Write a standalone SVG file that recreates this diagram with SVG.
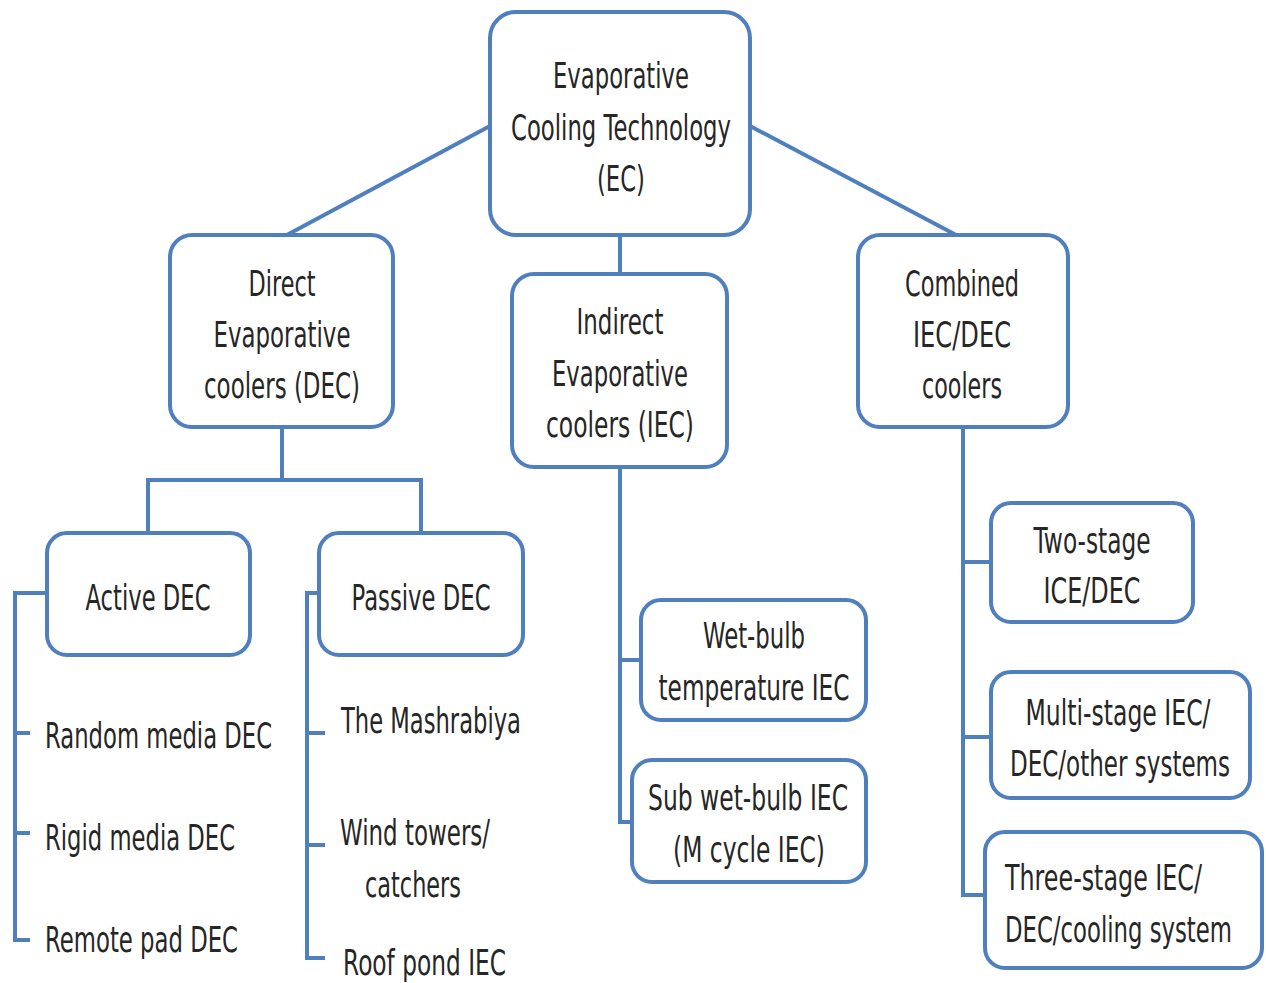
<svg xmlns="http://www.w3.org/2000/svg" width="1266" height="983" viewBox="0 0 1266 983">
<style>
.box{fill:#fff;stroke:#4f7fbd;stroke-width:4}
.ln{fill:none;stroke:#4f7fbd;stroke-width:4}
text{font-family:"DejaVu Sans",Verdana,sans-serif;font-size:36px;fill:#262626}
.c{text-anchor:middle}
</style>
<rect width="1266" height="983" fill="#fff"/>
<g id="connectors">
<line class="ln" x1="490" y1="126" x2="285" y2="236"/>
<line class="ln" x1="750" y1="126" x2="958" y2="236"/>
<line class="ln" x1="620" y1="235" x2="620" y2="274"/>
<polyline class="ln" points="282,427 282,480"/>
<polyline class="ln" points="148,533 148,480 421,480 421,533"/>
<polyline class="ln" points="47,593 15,593 15,940 30,940"/>
<line class="ln" x1="15" y1="733" x2="30" y2="733"/>
<line class="ln" x1="15" y1="833" x2="30" y2="833"/>
<polyline class="ln" points="319,593 307,593 307,958 325,958"/>
<line class="ln" x1="307" y1="733" x2="325" y2="733"/>
<line class="ln" x1="307" y1="845" x2="325" y2="845"/>
<polyline class="ln" points="620,467 620,822 632,822"/>
<line class="ln" x1="620" y1="660" x2="641" y2="660"/>
<polyline class="ln" points="963,427 963,895 985,895"/>
<line class="ln" x1="963" y1="562" x2="991" y2="562"/>
<line class="ln" x1="963" y1="737" x2="991" y2="737"/>
</g>
<g id="root">
<rect class="box" x="490" y="12" width="260" height="223" rx="26"/>
<text class="c" x="621" y="88" textLength="136" lengthAdjust="spacingAndGlyphs">Evaporative</text>
<text class="c" x="621" y="140" textLength="220" lengthAdjust="spacingAndGlyphs">Cooling Technology</text>
<text class="c" x="621" y="191" textLength="48" lengthAdjust="spacingAndGlyphs">(EC)</text>
</g>
<g id="dec">
<rect class="box" x="170" y="235" width="223" height="192" rx="22"/>
<text class="c" x="282" y="296" textLength="67" lengthAdjust="spacingAndGlyphs">Direct</text>
<text class="c" x="282" y="347" textLength="137" lengthAdjust="spacingAndGlyphs">Evaporative</text>
<text class="c" x="282" y="398" textLength="156" lengthAdjust="spacingAndGlyphs">coolers (DEC)</text>
</g>
<g id="iec">
<rect class="box" x="512" y="274" width="215" height="193" rx="22"/>
<text class="c" x="620" y="334" textLength="87" lengthAdjust="spacingAndGlyphs">Indirect</text>
<text class="c" x="620" y="386" textLength="136" lengthAdjust="spacingAndGlyphs">Evaporative</text>
<text class="c" x="620" y="437" textLength="148" lengthAdjust="spacingAndGlyphs">coolers (IEC)</text>
</g>
<g id="combined">
<rect class="box" x="858" y="235" width="210" height="192" rx="22"/>
<text class="c" x="962" y="296" textLength="114" lengthAdjust="spacingAndGlyphs">Combined</text>
<text class="c" x="962" y="347" textLength="98" lengthAdjust="spacingAndGlyphs">IEC/DEC</text>
<text class="c" x="962" y="398" textLength="80" lengthAdjust="spacingAndGlyphs">coolers</text>
</g>
<g id="active">
<rect class="box" x="47" y="533" width="203" height="122" rx="20"/>
<text class="c" x="148" y="610" textLength="125" lengthAdjust="spacingAndGlyphs">Active DEC</text>
</g>
<g id="passive">
<rect class="box" x="319" y="533" width="204" height="122" rx="20"/>
<text class="c" x="421" y="610" textLength="139" lengthAdjust="spacingAndGlyphs">Passive DEC</text>
</g>
<g id="active-items">
<text x="45" y="748" textLength="227" lengthAdjust="spacingAndGlyphs">Random media DEC</text>
<text x="45" y="850" textLength="190" lengthAdjust="spacingAndGlyphs">Rigid media DEC</text>
<text x="45" y="952" textLength="193" lengthAdjust="spacingAndGlyphs">Remote pad DEC</text>
</g>
<g id="passive-items">
<text x="341" y="733" textLength="180" lengthAdjust="spacingAndGlyphs">The Mashrabiya</text>
<text x="340" y="845" textLength="150" lengthAdjust="spacingAndGlyphs">Wind towers/</text>
<text x="365" y="897" textLength="96" lengthAdjust="spacingAndGlyphs">catchers</text>
<text x="343" y="975" textLength="163" lengthAdjust="spacingAndGlyphs">Roof pond IEC</text>
</g>
<g id="wetbulb">
<rect class="box" x="641" y="600" width="225" height="120" rx="20"/>
<text class="c" x="754" y="648" textLength="102" lengthAdjust="spacingAndGlyphs">Wet-bulb</text>
<text class="c" x="754" y="700" textLength="191" lengthAdjust="spacingAndGlyphs">temperature IEC</text>
</g>
<g id="subwetbulb">
<rect class="box" x="632" y="760" width="234" height="122" rx="20"/>
<text class="c" x="748" y="810" textLength="200" lengthAdjust="spacingAndGlyphs">Sub wet-bulb IEC</text>
<text class="c" x="749" y="862" textLength="152" lengthAdjust="spacingAndGlyphs">(M cycle IEC)</text>
</g>
<g id="twostage">
<rect class="box" x="991" y="503" width="202" height="119" rx="20"/>
<text class="c" x="1092" y="553" textLength="117" lengthAdjust="spacingAndGlyphs">Two-stage</text>
<text class="c" x="1092" y="603" textLength="97" lengthAdjust="spacingAndGlyphs">ICE/DEC</text>
</g>
<g id="multistage">
<rect class="box" x="991" y="672" width="259" height="126" rx="20"/>
<text class="c" x="1118" y="725" textLength="185" lengthAdjust="spacingAndGlyphs">Multi-stage IEC/</text>
<text class="c" x="1120" y="776" textLength="220" lengthAdjust="spacingAndGlyphs">DEC/other systems</text>
</g>
<g id="threestage">
<rect class="box" x="985" y="832" width="277" height="136" rx="20"/>
<text x="1005" y="890" textLength="197" lengthAdjust="spacingAndGlyphs">Three-stage IEC/</text>
<text x="1005" y="942" textLength="227" lengthAdjust="spacingAndGlyphs">DEC/cooling system</text>
</g>
</svg>
